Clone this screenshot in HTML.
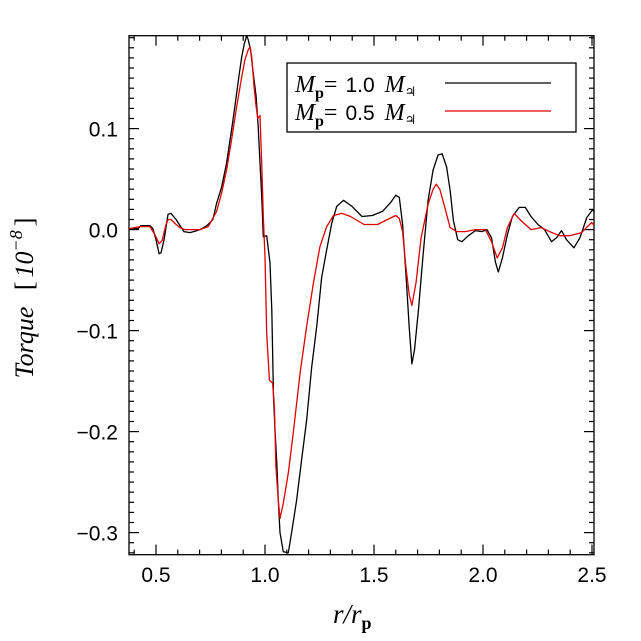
<!DOCTYPE html>
<html><head><meta charset="utf-8"><style>
html,body{margin:0;padding:0;background:#fff;width:641px;height:641px;overflow:hidden}
svg{display:block}
.tk{font-family:"Liberation Sans",sans-serif;font-size:21px;fill:#000;font-weight:normal}
.ser{font-family:"Liberation Serif","DejaVu Serif",serif;fill:#000}
</style></head><body>
<svg id="chart" width="641" height="641" viewBox="0 0 641 641" xmlns="http://www.w3.org/2000/svg">
<defs><clipPath id="clip"><rect x="129" y="35.7" width="465" height="519"/></clipPath></defs>
<rect x="129" y="35.7" width="465" height="519" fill="none" stroke="#000" stroke-width="1.3"/>
<g id="ticks"></g>
<g id="series" clip-path="url(#clip)"></g>
<text class="ser" transform="translate(33,298) rotate(-90)" text-anchor="middle" font-size="26" font-style="italic">Torque <tspan dx="10" font-style="normal">[</tspan><tspan dx="4">10</tspan><tspan dy="-11" font-size="18">−8</tspan><tspan dy="11" dx="4" font-style="normal">]</tspan></text>
<text class="ser" x="333" y="623" font-size="27" font-style="italic">r/r<tspan dy="6" font-size="18" font-style="normal" font-weight="bold">p</tspan></text>
<g>
<rect x="287" y="63" width="289" height="69" fill="#fff" stroke="#000" stroke-width="1.3"/>
<text class="ser" x="295" y="92" font-size="24"><tspan font-style="italic">M</tspan><tspan dy="6" font-size="16" font-weight="bold">p</tspan><tspan dy="-6">=</tspan><tspan class="tk" dx="8" font-size="21" font-family="Liberation Sans">1.0</tspan><tspan dx="10" font-style="italic">M</tspan><tspan dy="4" font-size="13" font-family="DejaVu Sans">♃</tspan></text>
<line x1="445" y1="83" x2="551" y2="83" stroke="#000" stroke-width="1.3"/>
<text class="ser" x="295" y="120" font-size="24"><tspan font-style="italic">M</tspan><tspan dy="6" font-size="16" font-weight="bold">p</tspan><tspan dy="-6">=</tspan><tspan class="tk" dx="8" font-size="21" font-family="Liberation Sans">0.5</tspan><tspan dx="10" font-style="italic">M</tspan><tspan dy="4" font-size="13" font-family="DejaVu Sans">♃</tspan></text>
<line x1="445" y1="111" x2="551" y2="111" stroke="#e00000" stroke-width="1.3"/>
</g>
</svg>
<script>
const xTickLabels = ["0.5","1.0","1.5","2.0","2.5"];
const xTickValues = [0.5,1.0,1.5,2.0,2.5];
const yTickLabels = ["0.1","0.0","−0.1","−0.2","−0.3"];
const yTickValues = [0.1,0.0,-0.1,-0.2,-0.3];
const blackX = [0.376,0.417,0.431,0.472,0.486,0.5,0.514,0.523,0.537,0.555,0.569,0.592,0.610,0.628,0.656,0.688,0.711,0.734,0.761,0.778,0.801,0.824,0.847,0.862,0.878,0.893,0.905,0.916,0.923,0.934,0.946,0.959,0.969,0.977,0.985,0.992,1.008,1.023,1.031,1.039,1.046,1.054,1.061,1.069,1.084,1.107,1.122,1.145,1.168,1.191,1.214,1.237,1.260,1.283,1.306,1.329,1.360,1.399,1.445,1.492,1.539,1.577,1.600,1.616,1.631,1.647,1.662,1.674,1.686,1.704,1.725,1.748,1.771,1.794,1.813,1.833,1.849,1.864,1.884,1.903,1.933,1.965,1.995,2.018,2.039,2.057,2.070,2.089,2.112,2.135,2.166,2.194,2.220,2.252,2.282,2.314,2.337,2.360,2.383,2.417,2.445,2.476,2.504,2.51];
const blackY = [0.001,0.001,0.004,0.004,0.001,-0.010,-0.024,-0.023,-0.010,0.015,0.016,0.010,0.004,-0.002,-0.003,-0.001,0.001,0.004,0.010,0.026,0.042,0.066,0.099,0.122,0.148,0.171,0.184,0.192,0.188,0.178,0.155,0.132,0.102,0.066,0.033,-0.007,-0.006,-0.033,-0.080,-0.165,-0.198,-0.231,-0.268,-0.300,-0.319,-0.320,-0.300,-0.268,-0.228,-0.189,-0.136,-0.096,-0.047,-0.020,0.006,0.023,0.029,0.023,0.013,0.014,0.018,0.027,0.034,0.032,0.005,-0.045,-0.098,-0.133,-0.119,-0.079,-0.025,0.029,0.059,0.074,0.075,0.062,0.039,0.009,-0.010,-0.012,-0.006,-0.001,-0.002,0.000,-0.008,-0.032,-0.042,-0.028,-0.005,0.013,0.022,0.022,0.013,0.005,0.000,-0.012,-0.008,-0.001,-0.010,-0.018,-0.008,0.012,0.020,0.017];
const redX = [0.376,0.427,0.472,0.495,0.514,0.528,0.546,0.556,0.569,0.592,0.610,0.633,0.702,0.740,0.778,0.801,0.824,0.847,0.870,0.893,0.908,0.923,0.931,0.939,0.950,0.959,0.967,0.977,0.985,0.992,1.000,1.008,1.020,1.035,1.043,1.050,1.061,1.069,1.084,1.107,1.130,1.161,1.191,1.222,1.252,1.283,1.314,1.353,1.392,1.454,1.516,1.562,1.600,1.616,1.631,1.647,1.662,1.674,1.693,1.716,1.748,1.771,1.786,1.802,1.825,1.849,1.879,1.918,1.965,2.011,2.039,2.065,2.089,2.112,2.143,2.174,2.220,2.267,2.305,2.352,2.398,2.452,2.498,2.51];
const redY = [0.001,0.003,0.003,-0.005,-0.014,-0.011,0.005,0.010,0.010,0.005,0.002,0.000,0.000,0.003,0.018,0.036,0.059,0.089,0.122,0.151,0.168,0.178,0.181,0.171,0.141,0.122,0.110,0.113,0.066,0.013,-0.027,-0.103,-0.149,-0.152,-0.175,-0.235,-0.268,-0.286,-0.271,-0.241,-0.201,-0.142,-0.096,-0.053,-0.017,0.003,0.014,0.016,0.013,0.005,0.005,0.010,0.014,0.011,-0.002,-0.038,-0.065,-0.075,-0.052,-0.008,0.025,0.040,0.045,0.040,0.022,0.002,-0.002,-0.002,0.000,0.000,-0.012,-0.028,-0.018,0.002,0.016,0.009,0.000,0.002,-0.002,-0.006,-0.006,-0.003,0.007,0.004];

const NS='http://www.w3.org/2000/svg';
const L=129,R=594,T=35.7,B=554.6;
function sx(v){return 156+(v-0.5)*218;}
function sy(v){return 229.6-v*1010;}
const ticks=document.getElementById('ticks');
function ln(x1,y1,x2,y2){
  const e=document.createElementNS(NS,'line');
  e.setAttribute('x1',x1);e.setAttribute('y1',y1);e.setAttribute('x2',x2);e.setAttribute('y2',y2);
  e.setAttribute('stroke','#000');e.setAttribute('stroke-width','1.2');
  
  
  ticks.appendChild(e);
}
// x ticks (minor every 0.1, major every 0.5)
for(let i=-2;i<=21;i++){
  const v=0.5+i*0.1; const x=sx(v);
  if(x<L-0.5||x>R+0.5) continue;
  const major=(i%5===0);
  const len=major?10:5;
  ln(x,B,x,B-len); ln(x,T,x,T+len);
}
for(let i=0;i<xTickValues.length;i++){
  const t=document.createElementNS(NS,'text');
  t.setAttribute('x',sx(xTickValues[i]));t.setAttribute('y',582);
  t.setAttribute('text-anchor','middle');t.setAttribute('class','tk');
  
  
  t.textContent=xTickLabels[i];ticks.appendChild(t);
}
// y ticks (minor every 0.01)
for(let i=-33;i<=20;i++){
  const v=i*0.01; const y=sy(v);
  if(y<T-0.5||y>B+0.5) continue;
  const major=(i%10===0);
  const len=major?10:5;
  ln(L,y,L+len,y); ln(R,y,R-len,y);
}
for(let i=0;i<yTickValues.length;i++){
  const t=document.createElementNS(NS,'text');
  t.setAttribute('x',118);t.setAttribute('y',sy(yTickValues[i])+8);
  t.setAttribute('text-anchor','end');t.setAttribute('class','tk');
  
  
  t.textContent=yTickLabels[i];ticks.appendChild(t);
}
const series=document.getElementById('series');
function drawLine(xs,ys,color,name){
  const p=document.createElementNS(NS,'polyline');
  p.setAttribute('points',xs.map((v,i)=>sx(v).toFixed(1)+','+sy(ys[i]).toFixed(1)).join(' '));
  p.setAttribute('fill','none');p.setAttribute('stroke',color);p.setAttribute('stroke-width','1.3');
  p.setAttribute('stroke-linejoin','round');
  
  
  series.appendChild(p);
}
drawLine(blackX,blackY,'#000','series-mp-1.0');
drawLine(redX,redY,'#e00000','series-mp-0.5');
</script>
</body></html>
